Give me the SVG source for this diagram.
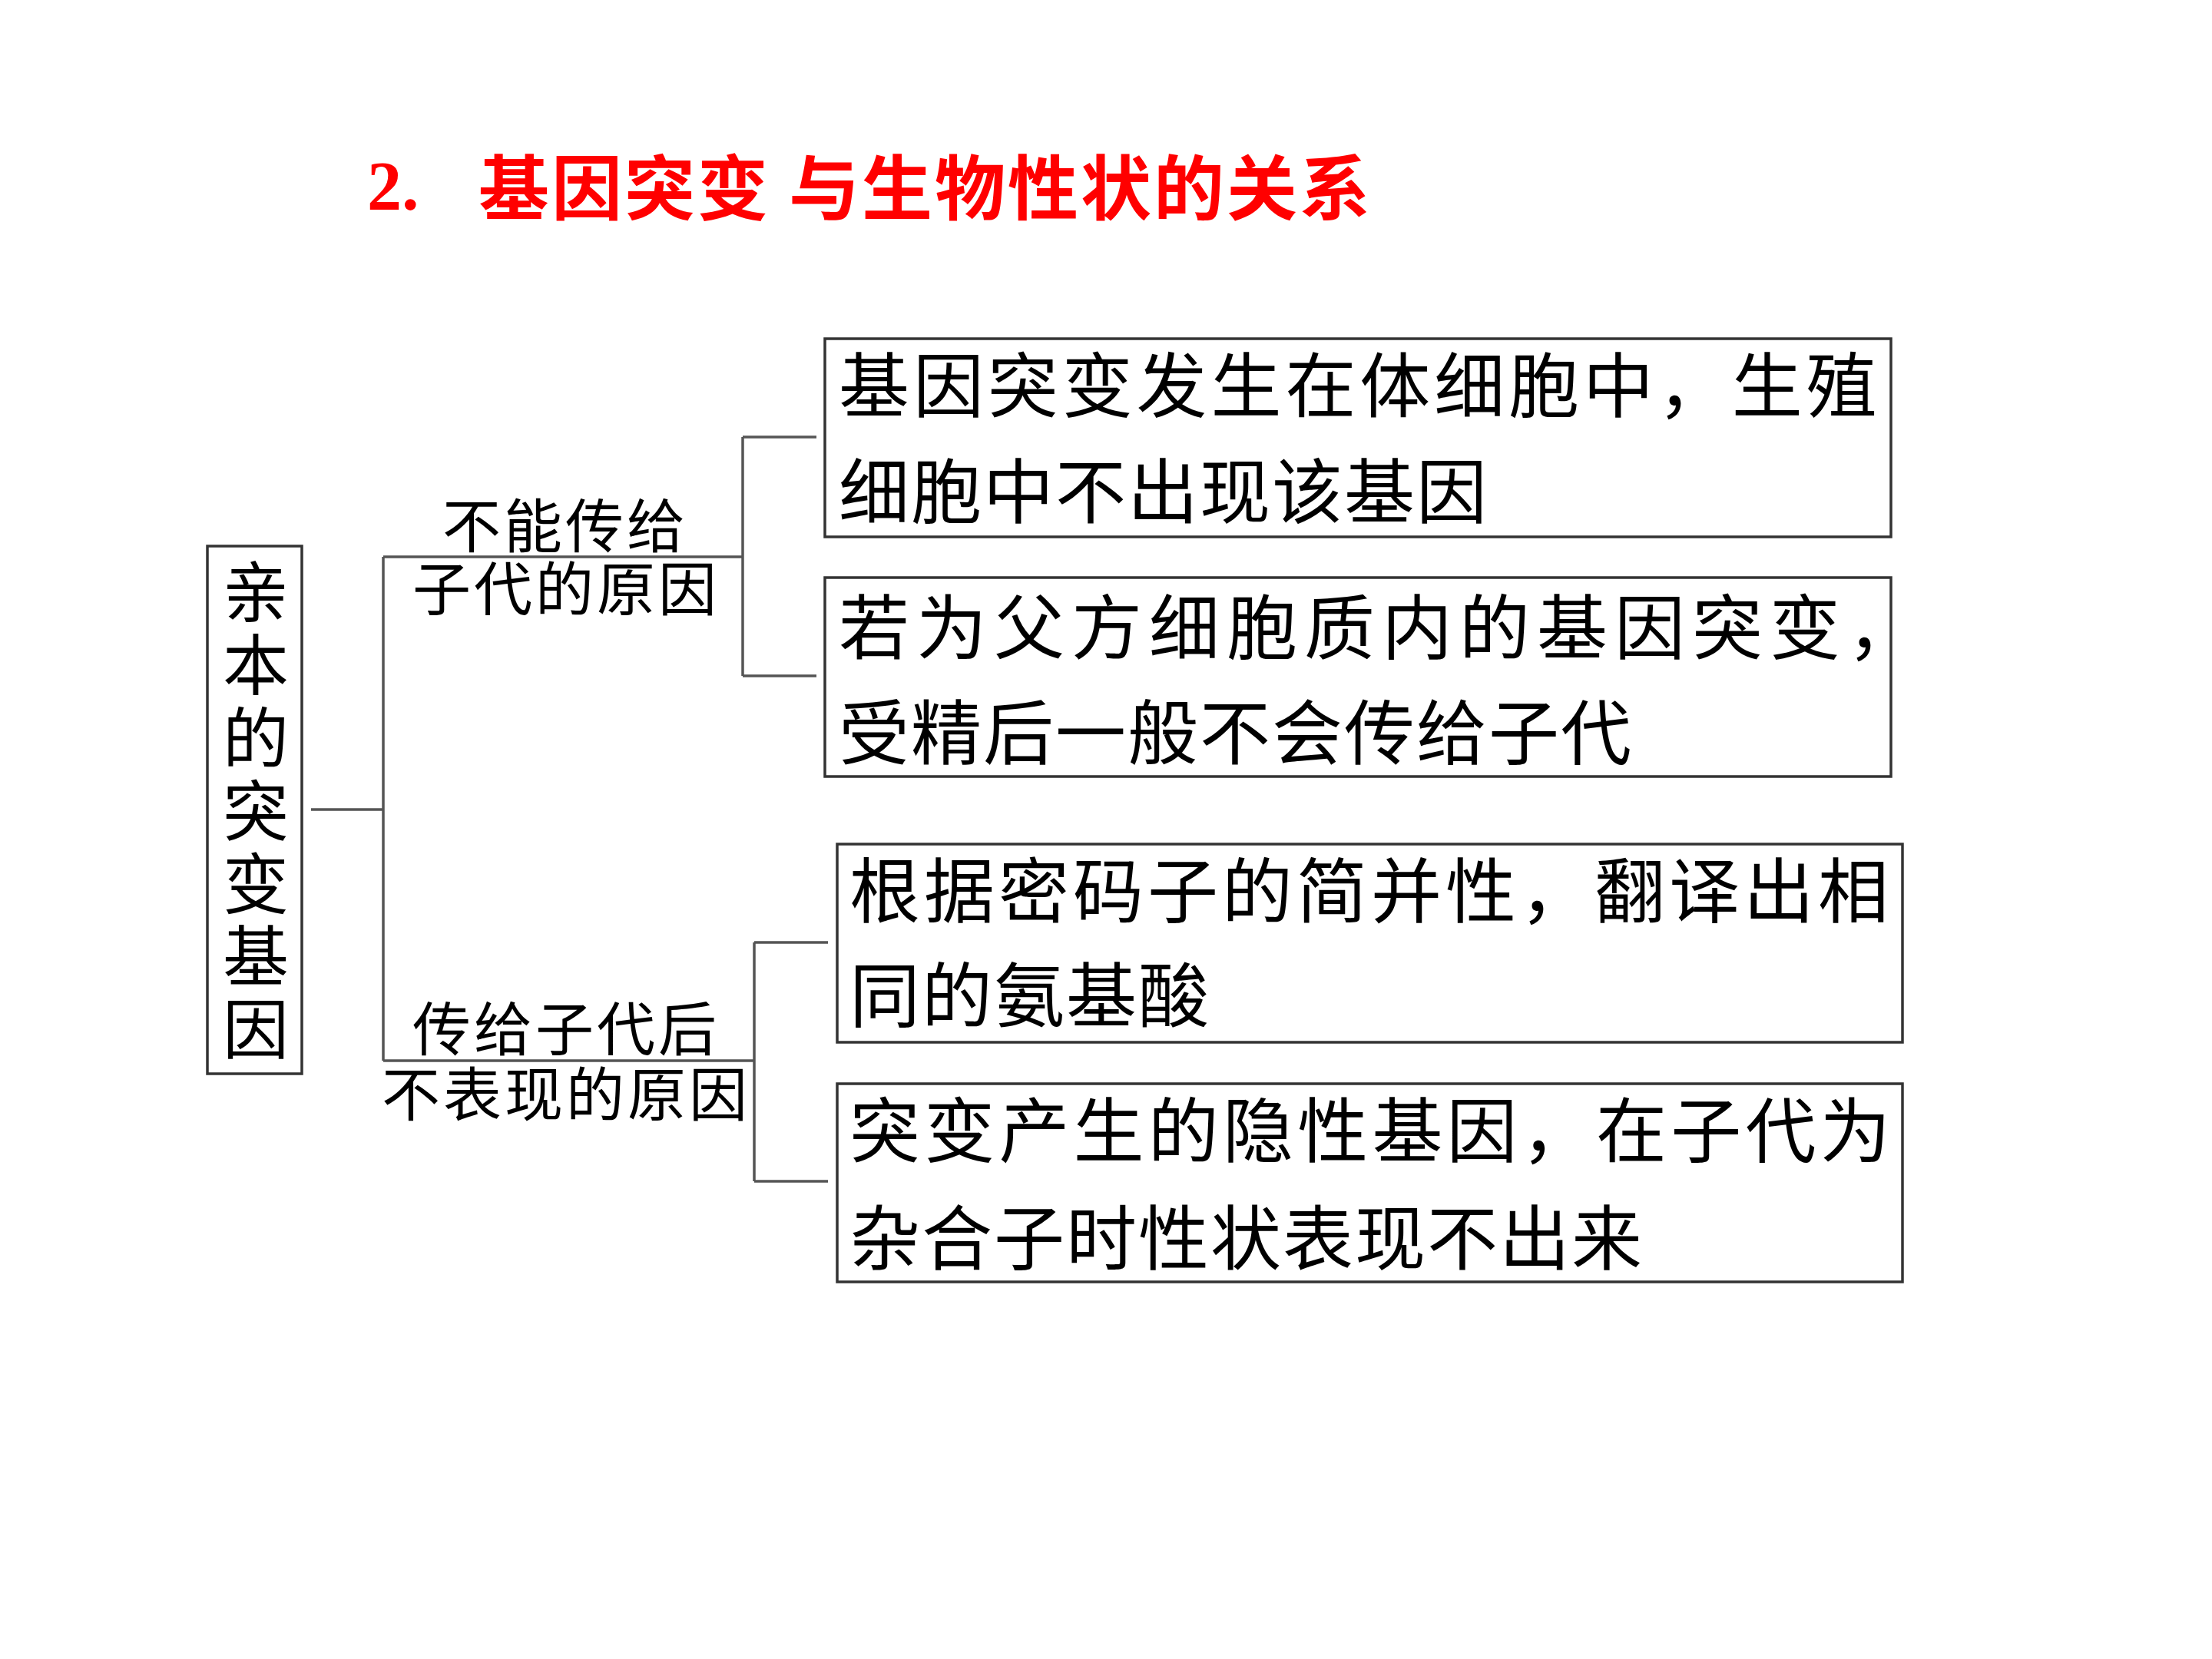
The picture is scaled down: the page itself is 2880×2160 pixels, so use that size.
<svg xmlns="http://www.w3.org/2000/svg" width="2880" height="2160" viewBox="0 0 2880 2160">
<style>
.bg{fill:#ffffff}
.box{fill:#ffffff;stroke:#333333;stroke-width:3.5}
.ln{fill:none;stroke:#555555;stroke-width:3.5}
.t{font-family:"Noto Sans CJK SC","Liberation Sans",sans-serif;fill:#000000}
.bt{font-size:92px}
.lb{font-size:76px;letter-spacing:4px}
.vt{font-size:86px}
.title{font-family:"Noto Sans CJK SC","Liberation Sans",sans-serif;font-weight:bold;fill:#ff0000;font-size:92px;letter-spacing:3px}
.num{font-family:"Liberation Serif","Noto Sans CJK SC",serif;font-weight:bold;fill:#ff0000;font-size:90px}
</style>
<rect class="bg" x="0" y="0" width="2880" height="2160"/>
<g id="title">
<text class="num" x="478" y="273">2.</text>
<text class="title" x="623" y="279">基因突变 与生物性状的关系</text>
</g>
<g id="connectors">
<path class="ln" d="M405,1054 H499"/>
<path class="ln" d="M499,725 V1381"/>
<path class="ln" d="M499,725 H967"/>
<path class="ln" d="M499,1381 H982"/>
<path class="ln" d="M967,569 V880"/>
<path class="ln" d="M967,569 H1063"/>
<path class="ln" d="M967,880 H1063"/>
<path class="ln" d="M982,1227 V1538"/>
<path class="ln" d="M982,1227 H1078"/>
<path class="ln" d="M982,1538 H1078"/>
</g>
<g id="root">
<rect class="box" x="270" y="711" width="123" height="687"/>
<text class="t vt" x="290" y="803">亲</text>
<text class="t vt" x="290" y="898">本</text>
<text class="t vt" x="290" y="993">的</text>
<text class="t vt" x="290" y="1088">突</text>
<text class="t vt" x="290" y="1183">变</text>
<text class="t vt" x="290" y="1277">基</text>
<text class="t vt" x="290" y="1372">因</text>
</g>
<g id="label1">
<text class="t lb" x="576" y="713">不能传给</text>
<text class="t lb" x="537" y="795">子代的原因</text>
</g>
<g id="label2">
<text class="t lb" x="537" y="1368">传给子代后</text>
<text class="t lb" x="497" y="1453">不表现的原因</text>
</g>
<g id="box1">
<rect class="box" x="1074" y="441" width="1388" height="258"/>
<text class="t bt" x="1092" y="536" letter-spacing="4.9">基因突变发生在体细胞中，生殖</text>
<text class="t bt" x="1092" y="674" letter-spacing="2">细胞中不出现该基因</text>
</g>
<g id="box2">
<rect class="box" x="1074" y="752" width="1388" height="259"/>
<text class="t bt" x="1092" y="851" letter-spacing="9">若为父方细胞质内的基因突变，</text>
<text class="t bt" x="1092" y="988" letter-spacing="2">受精后一般不会传给子代</text>
</g>
<g id="box3">
<rect class="box" x="1090" y="1099" width="1387" height="258"/>
<text class="t bt" x="1106" y="1194" letter-spacing="5">根据密码子的简并性，翻译出相</text>
<text class="t bt" x="1106" y="1330" letter-spacing="2">同的氨基酸</text>
</g>
<g id="box4">
<rect class="box" x="1090" y="1411" width="1387" height="258"/>
<text class="t bt" x="1106" y="1506" letter-spacing="5.2">突变产生的隐性基因，在子代为</text>
<text class="t bt" x="1106" y="1646" letter-spacing="2">杂合子时性状表现不出来</text>
</g>
</svg>
